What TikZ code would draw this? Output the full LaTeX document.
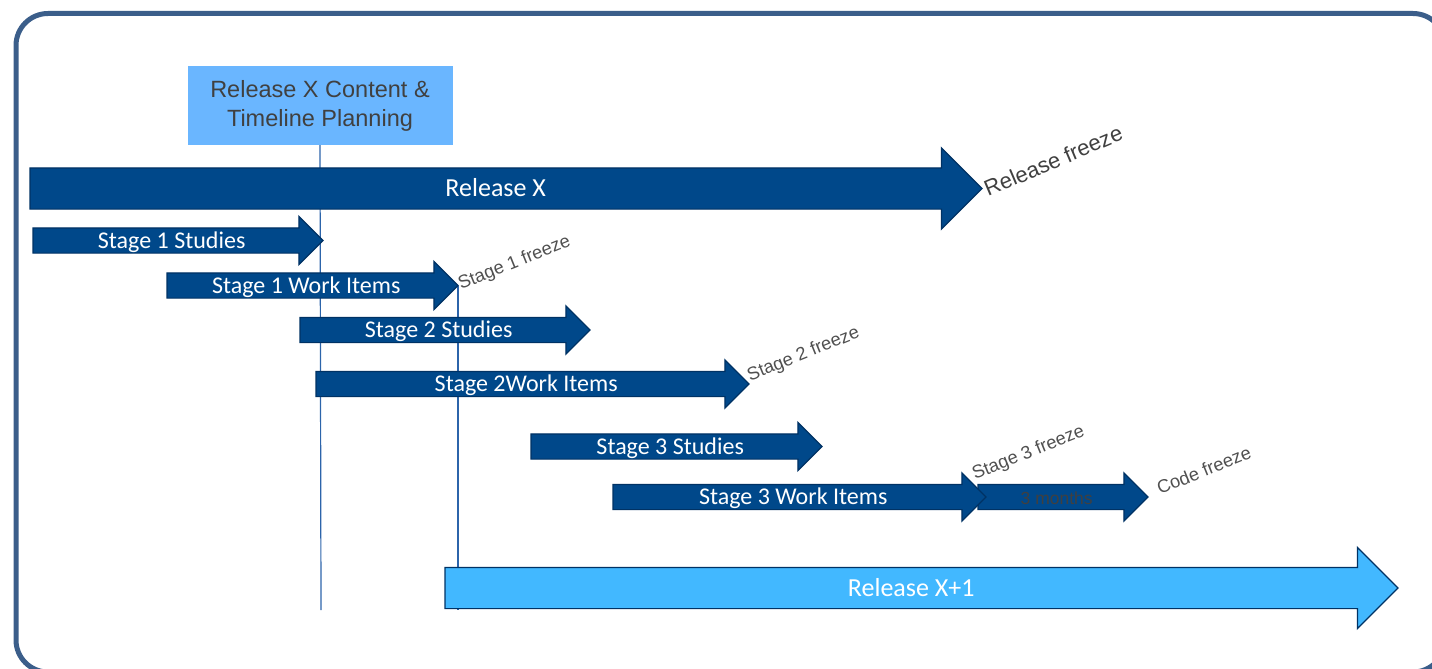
\documentclass[tikz,border=0pt]{standalone}
\usepackage{fontspec}
\setmainfont{Liberation Sans}
\newfontfamily\calfont{Carlito}
\usetikzlibrary{shapes.arrows, positioning, backgrounds}
\definecolor{framegray}{RGB}{59,94,138}
\definecolor{stagedark}{RGB}{0,72,138}
\definecolor{stageline}{RGB}{0,50,100}
\definecolor{nextblue}{RGB}{66,184,255}
\definecolor{planblue}{RGB}{106,182,255}
\definecolor{markline}{RGB}{44,100,170}
\definecolor{labelgray}{RGB}{80,80,80}
\definecolor{plantext}{RGB}{64,64,64}

\begin{document}
\begin{tikzpicture}[x=1pt, y=-1pt,
  stagearrow/.style={single arrow, single arrow tip angle=90, draw=stageline, line width=1.2pt, fill=stagedark, text=white, font=\calfont\fontsize{24}{26}\selectfont, inner xsep=0pt, inner ysep=0pt, outer sep=0pt, text height=19.75pt, text depth=4.25pt, single arrow head extend=11.5pt, anchor=tail},
  releasearrow/.style={stagearrow, font=\calfont\fontsize{26}{28}\selectfont, text height=28.3pt, text depth=11.7pt, single arrow head extend=20pt},
  freezelabel/.style={rotate=22, anchor=base west, text=labelgray, font=\fontsize{18.3}{20}\selectfont, inner sep=0pt},
  planbox/.style={fill=planblue, text=plantext, font=\fontsize{23.5}{29}\selectfont, align=center, minimum width=265pt, minimum height=78pt, inner sep=0pt},
  marker/.style={draw=markline, line width=1.2pt}
]
  \useasboundingbox (0,0) rectangle (1432,669);
  \begin{scope}
    \clip (0,0) rectangle (1432,669);
    \draw[framegray, line width=5pt, rounded corners=32pt] (16,13.5) rectangle (1445,672);
  \end{scope}

  \node[planbox] (plan) at (320,105.5) {\raisebox{-3pt}{Release X Content \&}\\\raisebox{-3pt}{Timeline Planning}};

  \node[releasearrow, minimum height=952pt] (relx) at (30,188.5) {Release X};
  \node[stagearrow, minimum height=290pt] (s1st) at (33,240.5) {Stage 1 Studies};
  \node[stagearrow, minimum height=291pt] (s1wi) at (167,285.5) {Stage 1 Work Items};
  \node[stagearrow, minimum height=290pt] (s2st) at (300,330) {Stage 2 Studies};
  \node[stagearrow, minimum height=433pt] (s2wi) at (316,384) {Stage 2Work Items};
  \node[stagearrow, minimum height=291pt] (s3st) at (531,446.5) {Stage 3 Studies};
  \node[stagearrow, minimum height=170pt, text=plantext, font=\fontsize{17.5}{19}\selectfont] (three) at (978,497) {3 months};
  \node[stagearrow, minimum height=373pt] (s3wi) at (613,497) {Stage 3 Work Items};
  \node[releasearrow, fill=nextblue, minimum height=953pt] (relnext) at (445,588) {Release X+1};

  % freeze markers
  \coordinate (planend) at (321,610);
  \coordinate (s1end) at (458,610);
  \begin{scope}[on background layer]
    \draw[marker] (plan.south) -- (planend);
    \draw[marker] (s1wi.tip) -- (s1end);
  \end{scope}

  \node[freezelabel, rotate=1, font=\fontsize{22}{24}\selectfont, text=plantext] (relfrz) at (988,197) {Release freeze};
  \node[freezelabel] (s1frz) at (461,290) {Stage 1 freeze};
  \node[freezelabel] (s2frz) at (750,381.5) {Stage 2 freeze};
  \node[freezelabel] (s3frz) at (975,480) {Stage 3 freeze};
  \node[freezelabel] (codefrz) at (1160,495) {Code freeze};
\end{tikzpicture}
\end{document}
